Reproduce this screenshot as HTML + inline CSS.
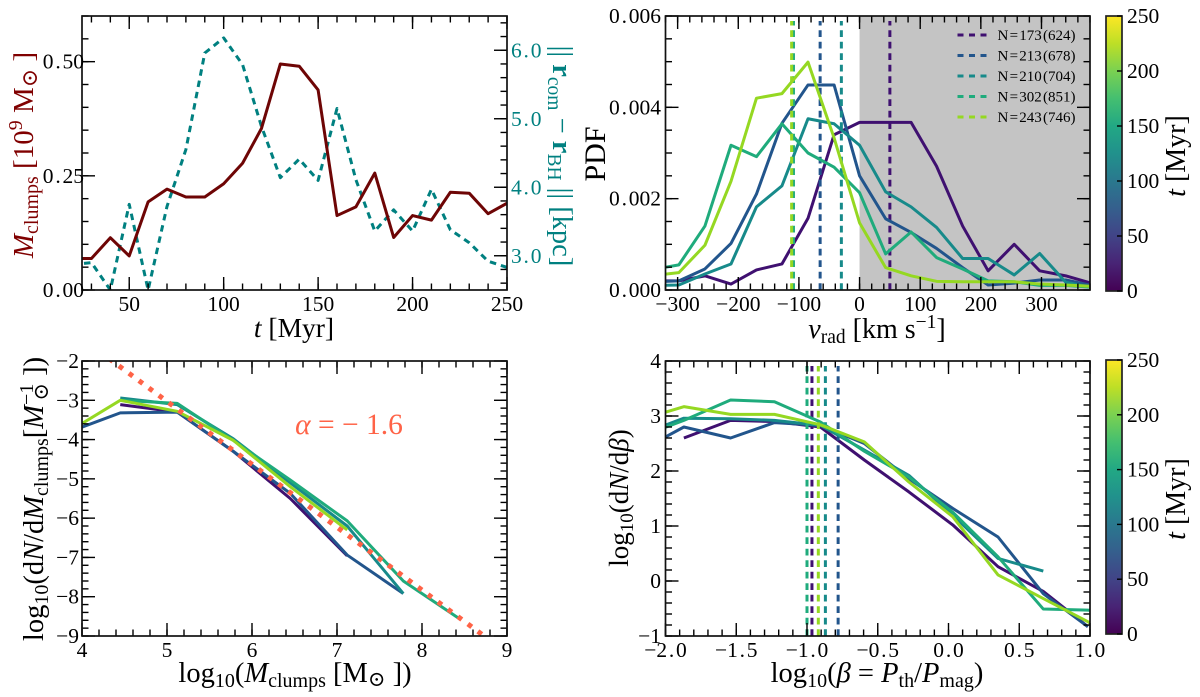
<!DOCTYPE html>
<html lang="en">
<head>
<meta charset="utf-8">
<title>Clump statistics panels</title>
<style>
html,body{margin:0;padding:0;background:#fff;}
svg{display:block;font-family:"Liberation Serif","DejaVu Serif",serif;}
text{fill:#000;}
</style>
</head>
<body>
<svg id="figure" xmlns="http://www.w3.org/2000/svg" width="1200" height="697" viewBox="0 0 1200 697">
  <defs>
    <clipPath id="clip-a"><rect x="82" y="16" width="425" height="274"/></clipPath>
    <clipPath id="clip-b"><rect x="665.5" y="16" width="424.5" height="274"/></clipPath>
    <clipPath id="clip-c"><rect x="82" y="361" width="425" height="275"/></clipPath>
    <clipPath id="clip-d"><rect x="665.5" y="361" width="424.5" height="275"/></clipPath>
    <linearGradient id="viridis-gradient" x1="0" y1="1" x2="0" y2="0"></linearGradient>
  </defs>
  <g id="layer"></g>

  <text x="294" y="337" font-size="27.5" text-anchor="middle"><tspan font-style="italic">t</tspan> [Myr]</text>
  <text transform="translate(33,155) rotate(-90)" font-size="29" text-anchor="middle" style="fill:#800000"><tspan font-style="italic" style="fill:#800000">M</tspan><tspan font-size="20" dy="5" style="fill:#800000">clumps</tspan><tspan dy="-5" style="fill:#800000"> [10</tspan><tspan font-size="20" dy="-11" style="fill:#800000">9</tspan><tspan dy="11" style="fill:#800000"> M</tspan><tspan font-size="22" dy="4" style="fill:#800000">⊙</tspan><tspan dy="-4" style="fill:#800000"> ]</tspan></text>
  <text transform="translate(553,156) rotate(90)" font-size="28.5" text-anchor="middle" style="fill:#008080"><tspan style="fill:#008080">|| </tspan><tspan font-weight="bold" style="fill:#008080">r</tspan><tspan font-size="19.5" dy="5" style="fill:#008080">com</tspan><tspan dy="-5" style="fill:#008080"> − </tspan><tspan font-weight="bold" style="fill:#008080">r</tspan><tspan font-size="19.5" dy="5" style="fill:#008080">BH</tspan><tspan dy="-5" style="fill:#008080"> || [kpc]</tspan></text>

  <text transform="translate(605,154) rotate(-90)" font-size="30" text-anchor="middle">PDF</text>
  <text x="877" y="338" font-size="28" text-anchor="middle"><tspan font-style="italic">v</tspan><tspan font-size="19.5" dy="5">rad</tspan><tspan dy="-5"> [km s</tspan><tspan font-size="19.5" dy="-10">−1</tspan><tspan dy="10">]</tspan></text>
  <text transform="translate(1185,156) rotate(-90)" font-size="28" text-anchor="middle"><tspan font-style="italic">t</tspan> [Myr]</text>

  <text x="295" y="682" font-size="28.5" text-anchor="middle">log<tspan font-size="20" dy="5">10</tspan><tspan dy="-5">(</tspan><tspan font-style="italic">M</tspan><tspan font-size="20" dy="5">clumps</tspan><tspan dy="-5"> [M</tspan><tspan font-size="21" dy="4">⊙</tspan><tspan dy="-4"> ])</tspan></text>
  <text transform="translate(43,499) rotate(-90)" font-size="28.5" text-anchor="middle">log<tspan font-size="20" dy="5">10</tspan><tspan dy="-5">(d</tspan><tspan font-style="italic">N</tspan><tspan>/d</tspan><tspan font-style="italic">M</tspan><tspan font-size="20" dy="5">clumps</tspan><tspan dy="-5">[</tspan><tspan font-style="italic">M</tspan><tspan font-size="20" dy="-10">−1</tspan><tspan font-size="21" dx="-17" dy="15">⊙</tspan><tspan dy="-5"> ])</tspan></text>
  <text x="349" y="434" font-size="29.5" text-anchor="middle" style="fill:#ff6347"><tspan font-style="italic" style="fill:#ff6347">α</tspan><tspan style="fill:#ff6347"> = − 1.6</tspan></text>

  <text x="877" y="682" font-size="28.5" text-anchor="middle">log<tspan font-size="20" dy="5">10</tspan><tspan dy="-5">(</tspan><tspan font-style="italic">β</tspan><tspan> = </tspan><tspan font-style="italic">P</tspan><tspan font-size="20" dy="5">th</tspan><tspan dy="-5">/</tspan><tspan font-style="italic">P</tspan><tspan font-size="20" dy="5">mag</tspan><tspan dy="-5">)</tspan></text>
  <text transform="translate(628,498) rotate(-90)" font-size="27" text-anchor="middle">log<tspan font-size="19" dy="5">10</tspan><tspan dy="-5">(d</tspan><tspan font-style="italic">N</tspan><tspan>/d</tspan><tspan font-style="italic">β</tspan><tspan>)</tspan></text>
  <text transform="translate(1185,499) rotate(-90)" font-size="28" text-anchor="middle"><tspan font-style="italic">t</tspan> [Myr]</text>
</svg>

<script>
// ---------- panel A: clump mass and COM separation vs. time ----------
const timeValues = [20,30,40,50,60,70,80,90,100,110,120,130,140,150,160,170,180,190,200,210,220,230,240,250];
const clumpMass = [0.069,0.069,0.1145,0.0746,0.193,0.221,0.2036,0.2036,0.2326,0.2775,0.3536,0.495,0.49,0.438,0.163,0.182,0.256,0.115,0.163,0.153,0.214,0.212,0.167,0.19];
const comSeparation = [2.87,2.9,2.5,3.75,2.5,3.72,4.55,5.96,6.18,5.79,4.89,4.14,4.41,4.1,5.15,4.11,3.36,3.67,3.36,3.97,3.38,3.19,2.92,2.83];
const timeTicks = [50,100,150,200,250];
const massTicks = [0,0.25,0.5];
const separationTicks = [3,4,5,6];

// ---------- panel B: radial velocity PDFs ----------
const vradBins = [-340,-298,-255,-212,-170,-128,-85,-42,0,43,85,127,170,212,255,297,340,382];
const pdfT25 = [0.0002,0.0002,0.00031,0.00013,0.00044,0.00057,0.00157,0.0034,0.00367,0.00367,0.00367,0.00271,0.0014,0.00042,0.001,0.00042,0.00031,0.00015];
const pdfT75 = [0.00018,0.0002,0.00046,0.00102,0.0021,0.00365,0.00449,0.00449,0.0025,0.00156,0.00126,0.00091,0.00049,0.00011,0.00015,0.00022,0.00022,0.0001];
const pdfT125 = [0.0001,0.00011,0.00035,0.00057,0.00182,0.00228,0.00375,0.00364,0.00317,0.00215,0.00182,0.00137,0.00069,0.00069,0.00033,0.0008,0.00017,0.00006];
const pdfT175 = [0.00045,0.00055,0.0014,0.00317,0.00292,0.00364,0.003,0.00269,0.00213,0.00079,0.00127,0.00071,0.00046,0.0002,0.00018,0.0001,0.0001,0.00006];
const pdfT225 = [0.00032,0.00038,0.00098,0.00238,0.0042,0.0043,0.00499,0.00333,0.00147,0.00049,0.00031,0.00019,0.00018,0.00018,0.00018,0.00013,0.00011,0.00008];
const vradMedians = [50,-65,-30,-109,-112];
const vradTicks = [-300,-200,-100,0,100,200,300];
const pdfTicks = [0,0.002,0.004,0.006];
const legendLabels = ['N\u200A=\u200A173\u200A(624)','N\u200A=\u200A213\u200A(678)','N\u200A=\u200A210\u200A(704)','N\u200A=\u200A302\u200A(851)','N\u200A=\u200A243\u200A(746)'];

// ---------- panel C: clump mass function ----------
const massBins = [3.78,4.45,5.12,5.78,6.45,7.12,7.78,8.46];
const mfT25 = [null,-3.11,-3.3,-4.3,-5.5,-6.96,null,null];
const mfT75 = [-3.86,-3.32,-3.3,-4.3,-5.37,-6.94,-7.92,null];
const mfT125 = [null,-2.94,-3.11,-3.98,-5.1,-6.2,-7.92,null];
const mfT175 = [null,-3.0,-3.08,-4.02,-5.03,-6.07,-7.6,-8.59];
const mfT225 = [-3.88,-3.0,-3.28,-4.02,-5.2,-6.3,null,null];
const fitMass = [4.2,8.8];
const fitLogN = [-1.75,-9.11];
const logMassTicks = [4,5,6,7,8,9];
const logDensityTicks = [-9,-8,-7,-6,-5,-4,-3,-2];

// ---------- panel D: plasma beta distribution ----------
const betaBins = [-2.18,-1.87,-1.54,-1.23,-0.905,-0.595,-0.28,0.03,0.35,0.67,0.985,1.3];
const betaT25 = [null,2.6,2.92,2.9,2.8,2.2,1.62,1.02,0.26,-0.19,-0.83,null];
const betaT75 = [2.37,2.8,2.6,2.88,2.83,2.5,1.86,1.32,0.8,-0.23,-0.83,null];
const betaT125 = [2.66,2.96,2.95,2.92,2.83,2.38,1.92,1.2,0.41,0.18,null,null];
const betaT175 = [2.62,2.92,3.29,3.26,2.89,2.36,1.89,1.25,0.44,-0.51,-0.53,-0.6];
const betaT225 = [2.93,3.17,3.03,3.03,2.84,2.53,1.8,1.17,0.11,-0.32,-0.74,-1.3];
const betaMedians = [-0.965,-0.78,-0.87,-1.0,-0.92];
const betaTicks = [-2,-1.5,-1,-0.5,0,0.5,1];
const betaDensityTicks = [-1,0,1,2,3,4];

// ---------- colour scale ----------
const seriesColors = ['#3f1070','#22558c','#178a8a','#1fab7c','#95d822'];
const seriesNames = ['t25','t75','t125','t175','t225'];
const colorbarTicks = [0,50,100,150,200,250];
const viridisStops = ['#440154','#482475','#414487','#355f8d','#2a788e','#21918c','#22a884','#44bf70','#7ad151','#bddf26','#fde725'];

const NS = 'http://www.w3.org/2000/svg';
const layer = document.getElementById('layer');
const gradient = document.getElementById('viridis-gradient');
const LINE_W = 3;

viridisStops.forEach(function (color, i) {
  const stop = document.createElementNS(NS, 'stop');
  stop.setAttribute('offset', String(i / (viridisStops.length - 1)));
  stop.setAttribute('stop-color', color);
  gradient.appendChild(stop);
});

function scale(d0, d1, r0, r1) {
  return function (v) { return r0 + (v - d0) * (r1 - r0) / (d1 - d0); };
}

function add(parent, tag, attrs, name) {
  const el = document.createElementNS(NS, tag);
  Object.keys(attrs).forEach(function (k) { el.setAttribute(k, attrs[k]); });
  
  
  parent.appendChild(el);
  return el;
}

function linePath(xs, ys, sx, sy) {
  let d = '';
  xs.forEach(function (x, i) {
    if (ys[i] === null || ys[i] === undefined) return;
    d += (d ? 'L' : 'M') + sx(x).toFixed(2) + ' ' + sy(ys[i]).toFixed(2);
  });
  return d;
}

function drawSeries(g, xs, ys, sx, sy, color, width, name, dash) {
  const attrs = { d: linePath(xs, ys, sx, sy), fill: 'none', stroke: color, 'stroke-width': width, 'stroke-linejoin': 'round' };
  if (dash) attrs['stroke-dasharray'] = dash;
  return add(g, 'path', attrs, name);
}

function drawTicks(g, dir, side, scaleFn, lo, hi, step, len, lineWidth, name) {
  const n = Math.round((hi - lo) / step);
  const box = g.box;
  for (let i = 0; i <= n; i++) {
    const v = lo + i * step;
    const p = scaleFn(v);
    let a;
    if (dir === 'x') {
      const y0 = side === 'top' ? box.top : box.bottom;
      const y1 = side === 'top' ? box.top + len : box.bottom - len;
      a = { x1: p, x2: p, y1: y0, y2: y1 };
    } else {
      const x0 = side === 'left' ? box.left : box.right;
      const x1 = side === 'left' ? box.left + len : box.right - len;
      a = { x1: x0, x2: x1, y1: p, y2: p };
    }
    a.stroke = '#000';
    a['stroke-width'] = lineWidth;
    add(g, 'line', a, name);
  }
}

function fmt(v, decimals) {
  return v.toFixed(decimals).replace('-', '\u2212');
}

// Writes a tick value, widening the gap around the decimal point as mathtext does.
function setTickText(t, str, color) {
  const dot = str.indexOf('.');
  if (dot < 0) { t.textContent = str; return; }
  const parts = [str.slice(0, dot), '.', str.slice(dot + 1)];
  parts.forEach(function (part, i) {
    const s = document.createElementNS(NS, 'tspan');
    if (i > 0) s.setAttribute('dx', '1.8');
    if (color) s.style.fill = color;
    s.textContent = part;
    t.appendChild(s);
  });
}

function tickLabelsX(g, values, sx, decimals, name) {
  values.forEach(function (v) {
    const t = add(g, 'text', { x: sx(v), y: g.box.bottom + 21, 'font-size': 21.5, 'text-anchor': 'middle' }, name);
    setTickText(t, fmt(v, decimals));
  });
}

function tickLabelsY(g, values, sy, decimals, xRight, name, color, anchor) {
  values.forEach(function (v) {
    const t = add(g, 'text', { x: xRight, y: sy(v) + 7, 'font-size': 21.5, 'text-anchor': anchor || 'end' }, name);
    if (color) t.style.fill = color;
    setTickText(t, fmt(v, decimals), color);
  });
}

function frame(g) {
  const b = g.box;
  add(g, 'rect', { x: b.left, y: b.top, width: b.right - b.left, height: b.bottom - b.top, fill: 'none', stroke: '#111', 'stroke-width': 1.7 }, 'plot-frame');
}

function panel(name, left, right, top, bottom) {
  const g = add(layer, 'g', {}, name);
  g.box = { left: left, right: right, top: top, bottom: bottom };
  return g;
}

const MAJOR = 13;
const MINOR = 6.5;
const TICKW = 1.4;

// ---------- draw panel A ----------
(function () {
  const g = panel('mass-time-panel', 82, 507, 16, 290);
  const x = scale(25, 250, 82, 507);
  const yL = scale(0, 0.6, 290, 16);
  const yR = scale(2.5, 6.5, 290, 16);
  const plot = add(g, 'g', { 'clip-path': 'url(#clip-a)' }, 'mass-time-series');
  drawSeries(plot, timeValues, comSeparation, x, yR, '#008080', LINE_W, 'com-separation-line', '6.5 5');
  drawSeries(plot, timeValues, clumpMass, x, yL, '#6e0505', LINE_W, 'clump-mass-line');
  ['top', 'bottom'].forEach(function (s) {
    drawTicks(g, 'x', s, x, 30, 250, 10, MINOR, TICKW, 'time-minor-tick');
    drawTicks(g, 'x', s, x, 50, 250, 50, MAJOR, TICKW, 'time-major-tick');
  });
  drawTicks(g, 'y', 'left', yL, 0, 0.6, 0.05, MINOR, TICKW, 'mass-minor-tick');
  drawTicks(g, 'y', 'left', yL, 0, 0.5, 0.25, MAJOR, TICKW, 'mass-major-tick');
  drawTicks(g, 'y', 'right', yR, 2.6, 6.4, 0.2, MINOR, TICKW, 'separation-minor-tick');
  drawTicks(g, 'y', 'right', yR, 3, 6, 1, MAJOR, TICKW, 'separation-major-tick');
  frame(g);
  tickLabelsX(g, timeTicks, x, 0, 'time-tick-label');
  tickLabelsY(g, massTicks, yL, 2, 84, 'mass-tick-label', null);
  tickLabelsY(g, separationTicks, yR, 1, 511, 'separation-tick-label', '#008080', 'start');
})();

// ---------- draw panel B ----------
(function () {
  const g = panel('velocity-pdf-panel', 665.5, 1090, 16, 290);
  const x = scale(-320, 380, 665.5, 1090);
  const y = scale(0, 0.006, 290, 16);
  add(g, 'rect', { x: x(0), y: 16, width: 1090 - x(0), height: 274, fill: '#c4c4c4' }, 'outflow-shaded-region');
  const plot = add(g, 'g', { 'clip-path': 'url(#clip-b)' }, 'velocity-pdf-series');
  const pdfs = [pdfT25, pdfT75, pdfT125, pdfT175, pdfT225];
  pdfs.forEach(function (vals, i) {
    drawSeries(plot, vradBins, vals, x, y, seriesColors[i], LINE_W, 'pdf-line-' + seriesNames[i]);
    add(plot, 'line', { x1: x(vradMedians[i]), x2: x(vradMedians[i]), y1: 290, y2: 21, stroke: seriesColors[i], 'stroke-width': LINE_W, 'stroke-dasharray': '6.7 4.8' }, 'median-velocity-' + seriesNames[i]);
  });
  ['top', 'bottom'].forEach(function (s) {
    drawTicks(g, 'x', s, x, -320, 380, 20, MINOR, TICKW, 'velocity-minor-tick');
    drawTicks(g, 'x', s, x, -300, 300, 100, MAJOR, TICKW, 'velocity-major-tick');
  });
  ['left', 'right'].forEach(function (s) {
    drawTicks(g, 'y', s, y, 0, 0.006, 0.0005, MINOR, TICKW, 'pdf-minor-tick');
    drawTicks(g, 'y', s, y, 0, 0.006, 0.002, MAJOR, TICKW, 'pdf-major-tick');
  });
  frame(g);
  tickLabelsX(g, vradTicks, x, 0, 'velocity-tick-label');
  tickLabelsY(g, pdfTicks, y, 3, 661, 'pdf-tick-label', null);
  const legend = add(g, 'g', {}, 'legend');
  legendLabels.forEach(function (label, i) {
    const rowY = 35 + i * 20.5;
    const entry = add(legend, 'g', {}, 'legend-entry-' + seriesNames[i]);
    add(entry, 'line', { x1: 957.5, x2: 986.5, y1: rowY, y2: rowY, stroke: seriesColors[i], 'stroke-width': LINE_W, 'stroke-dasharray': '6 5.5' }, 'legend-swatch');
    const t = add(entry, 'text', { x: 997.5, y: rowY + 5, 'font-size': 15, fill: '#111' }, 'legend-label');
    t.textContent = label;
  });
})();

// ---------- draw panel C ----------
(function () {
  const g = panel('mass-function-panel', 82, 507, 361, 636);
  const x = scale(4, 9, 82, 507);
  const y = scale(-9, -2, 636, 361);
  const plot = add(g, 'g', { 'clip-path': 'url(#clip-c)' }, 'mass-function-series');
  const fns = [mfT25, mfT75, mfT125, mfT175, mfT225];
  fns.forEach(function (vals, i) {
    drawSeries(plot, massBins, vals, x, y, seriesColors[i], LINE_W, 'mass-function-line-' + seriesNames[i]);
  });
  drawSeries(plot, fitMass, fitLogN, x, y, '#ff6347', 5, 'power-law-fit-line', '4.8 7.6');
  ['top', 'bottom'].forEach(function (s) {
    drawTicks(g, 'x', s, x, 4, 9, 0.2, MINOR, TICKW, 'log-mass-minor-tick');
    drawTicks(g, 'x', s, x, 4, 9, 1, MAJOR, TICKW, 'log-mass-major-tick');
  });
  ['left', 'right'].forEach(function (s) {
    drawTicks(g, 'y', s, y, -9, -2, 0.2, MINOR, TICKW, 'log-density-minor-tick');
    drawTicks(g, 'y', s, y, -9, -2, 1, MAJOR, TICKW, 'log-density-major-tick');
  });
  frame(g);
  tickLabelsX(g, logMassTicks, x, 0, 'log-mass-tick-label');
  tickLabelsY(g, logDensityTicks, y, 0, 79, 'log-density-tick-label', null);
})();

// ---------- draw panel D ----------
(function () {
  const g = panel('beta-panel', 665.5, 1090, 361, 636);
  const x = scale(-2, 1, 665.5, 1090);
  const y = scale(-1, 4, 636, 361);
  const plot = add(g, 'g', { 'clip-path': 'url(#clip-d)' }, 'beta-series');
  const lines = [betaT25, betaT75, betaT125, betaT175, betaT225];
  lines.forEach(function (vals, i) {
    drawSeries(plot, betaBins, vals, x, y, seriesColors[i], LINE_W, 'beta-line-' + seriesNames[i]);
    add(plot, 'line', { x1: x(betaMedians[i]), x2: x(betaMedians[i]), y1: 636, y2: 366, stroke: seriesColors[i], 'stroke-width': LINE_W, 'stroke-dasharray': '6.7 4.8' }, 'median-beta-' + seriesNames[i]);
  });
  ['top', 'bottom'].forEach(function (s) {
    drawTicks(g, 'x', s, x, -2, 1, 0.1, MINOR, TICKW, 'beta-minor-tick');
    drawTicks(g, 'x', s, x, -2, 1, 0.5, MAJOR, TICKW, 'beta-major-tick');
  });
  ['left', 'right'].forEach(function (s) {
    drawTicks(g, 'y', s, y, -1, 4, 0.2, MINOR, TICKW, 'beta-density-minor-tick');
    drawTicks(g, 'y', s, y, -1, 4, 1, MAJOR, TICKW, 'beta-density-major-tick');
  });
  frame(g);
  tickLabelsX(g, betaTicks, x, 1, 'beta-tick-label');
  tickLabelsY(g, betaDensityTicks, y, 0, 661, 'beta-density-tick-label', null);
})();

// ---------- colorbars ----------
function drawColorbar(name, top, bottom) {
  const g = add(layer, 'g', {}, name);
  const y = scale(0, 250, bottom, top);
  add(g, 'rect', { x: 1106, y: top, width: 16, height: bottom - top, fill: 'url(#viridis-gradient)', stroke: '#222', 'stroke-width': 1.7 }, 'colorbar-gradient');
  colorbarTicks.forEach(function (v) {
    add(g, 'line', { x1: 1117, x2: 1122, y1: y(v), y2: y(v), stroke: '#000', 'stroke-width': TICKW }, 'colorbar-tick');
    const t = add(g, 'text', { x: 1127, y: y(v) + 7, 'font-size': 21.5 }, 'colorbar-tick-label');
    t.textContent = String(v);
  });
}
drawColorbar('colorbar-top', 16, 291);
drawColorbar('colorbar-bottom', 360, 634);
</script>
</body>
</html>
